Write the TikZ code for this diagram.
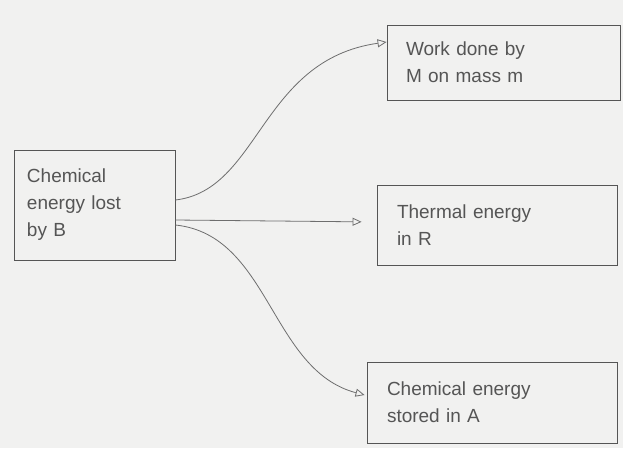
\documentclass[tikz,border=0pt]{standalone}
\usepackage{fontspec}
\setmainfont{Liberation Sans}
\usetikzlibrary{arrows.meta}
\definecolor{bgc}{HTML}{F1F1F0}
\definecolor{ink}{HTML}{555555}
\begin{document}
\begin{tikzpicture}[x=1pt,y=-1pt,
  box/.style={draw=ink,line width=0.9pt,inner sep=0pt,align=left,text=ink,font=\fontsize{19}{27}\selectfont},
  conn/.style={draw=ink!85,line width=0.8pt,-{Triangle[open,length=9pt,width=8pt]}}]
\fill[bgc] (0,0) rectangle (623,448);
\useasboundingbox (0,0) rectangle (623,448);
\node[box,minimum width=161pt,minimum height=110pt,text width=135pt] (b) at (94.5,205) {Chemical\\energy lost\\by B};
\node[box,minimum width=233pt,minimum height=75pt,text width=195pt] (w) at (503.5,62.5) {Work done by\\M on mass m};
\node[box,minimum width=240pt,minimum height=80pt,text width=200pt] (t) at (497,225) {Thermal energy\\in R};
\node[box,minimum width=250pt,minimum height=81pt,text width=210pt] (c) at (492,402.5) {Chemical energy\\stored in A};
\draw[conn] (b.east |- 0,200) .. controls (260,190) and (260,60) .. (w.west |- 0,42);
\draw[conn,shorten >=15pt] (b.east |- 0,220) -- (t.west |- 0,222);
\draw[conn] (b.east |- 0,225) .. controls (270,235) and (270,370) .. ([xshift=-2pt]c.west |- 0,395);
\end{tikzpicture}
\end{document}
